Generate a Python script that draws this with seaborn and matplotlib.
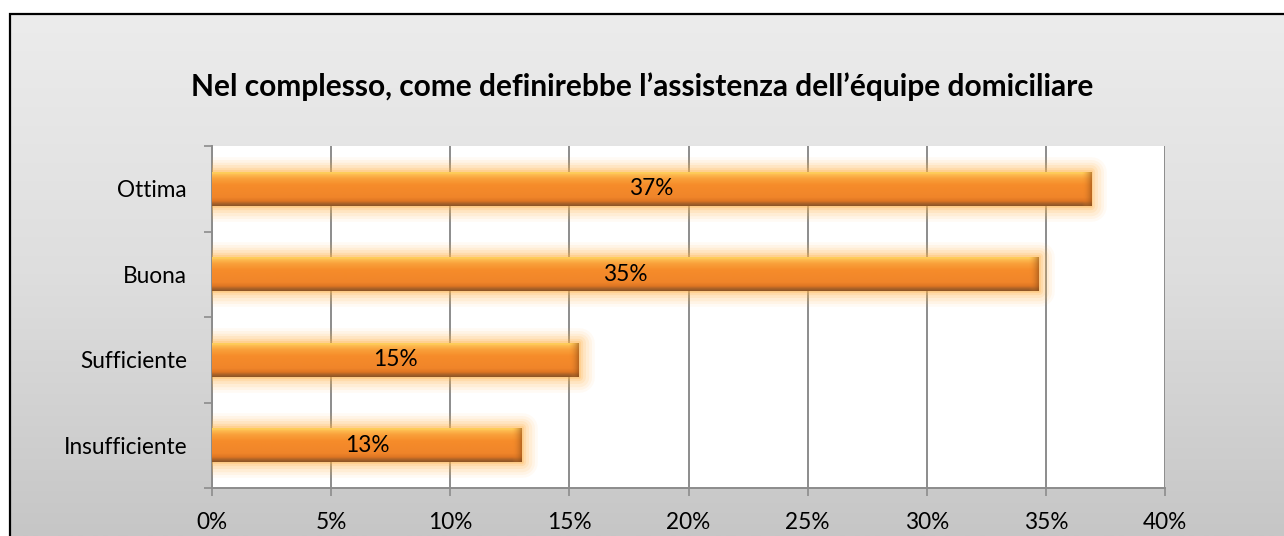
import numpy as np
import matplotlib
matplotlib.use("Agg")
import matplotlib.pyplot as plt
import matplotlib.patheffects as pe
from matplotlib.colors import LinearSegmentedColormap
from matplotlib.ticker import FuncFormatter, FixedLocator
import seaborn as sns

# Survey answers and share of respondents
categories = ["Ottima", "Buona", "Sufficiente", "Insufficiente"]
shares = [0.369, 0.347, 0.154, 0.130]
x_ticks = [0.0, 0.05, 0.10, 0.15, 0.20, 0.25, 0.30, 0.35, 0.40]
title = "Nel complesso, come definirebbe l\u2019assistenza dell\u2019\u00e9quipe domiciliare"

sns.set_theme(style="white")
plt.rcParams["font.family"] = ["Lato", "DejaVu Sans"]

W, H = 1284, 536
LABEL_SIZE = 16.3
fig = plt.figure(figsize=(W / 100, H / 100), dpi=100)
fig.patch.set_facecolor("white")

# Chart-area background: soft grey vertical gradient inside a black frame
bg = fig.add_axes([9 / W, 0, 1 - 9 / W, (H - 13) / H])
bg.set_axis_off()
ramp = np.linspace(0, 1, 256)[:, None]
bg_cmap = LinearSegmentedColormap.from_list("bg", ["#ececec", "#dedede", "#c6c6c6"])
bg.imshow(ramp, cmap=bg_cmap, aspect="auto", extent=(0, 1, 0, 1), origin="upper")
bg.set_xlim(0, 1)
bg.set_ylim(0, 1)
frame = plt.Rectangle((9.5 / W, -0.1), 1.2, (H - 13.5) / H + 0.1, transform=fig.transFigure,
                      fill=False, edgecolor="black", linewidth=1.6, zorder=5)
fig.patches.append(frame)

ax = fig.add_axes([212 / W, 48 / H, (1165 - 212) / W, (488 - 146) / H])
ax.set_facecolor("white")

sns.barplot(x=shares, y=categories, orient="h", color="#f68b2a", width=0.40,
            saturation=1, ax=ax, zorder=3)

# soft orange halo around each bar
glow = []
for lw, a in [(22, 0.06), (18, 0.08), (14, 0.10), (10, 0.13), (6, 0.18), (3, 0.25)]:
    glow.append(pe.Stroke(linewidth=lw, foreground="#ffb347", alpha=a, joinstyle="round"))
glow.append(pe.Normal())

bar_cmap = LinearSegmentedColormap.from_list(
    "bar", [(0.0, "#f5a040"), (0.04, "#ffd55e"), (0.10, "#fdbb50"), (0.22, "#f9a03a"),
            (0.40, "#f68c2a"), (0.75, "#f0852a"), (0.86, "#de7522"), (0.92, "#b06428"),
            (1.0, "#8a5426")])

for patch, val in zip(ax.patches, shares):
    patch.set_path_effects(glow)
    patch.set_edgecolor("none")
    x0, y0 = patch.get_x(), patch.get_y()
    w, h = patch.get_width(), patch.get_height()
    im = ax.imshow(ramp, cmap=bar_cmap, aspect="auto", extent=(x0, x0 + w, y0 + h, y0),
                   origin="upper", zorder=4, interpolation="bilinear")
    im.set_clip_path(patch)
    # darker bevel at the right end of the bar
    hramp = np.linspace(0, 1, 64)[None, :]
    bev_w = 0.004
    im2 = ax.imshow(hramp, cmap=LinearSegmentedColormap.from_list(
        "bev", [(0.97, 0.55, 0.17, 0.0), (0.55, 0.30, 0.10, 0.6)]),
        aspect="auto", extent=(x0 + w - bev_w, x0 + w, y0 + h, y0),
        origin="upper", zorder=5, interpolation="bilinear")
    im2.set_clip_path(patch)
    ax.text(x0 + w / 2, y0 + h / 2, f"{val:.0%}", ha="center", va="center",
            fontsize=LABEL_SIZE, color="black", zorder=6)

ax.set_xlim(0, 0.40)
ax.set_ylim(len(categories) - 0.5, -0.5)
ax.xaxis.set_major_locator(FixedLocator(x_ticks))
ax.xaxis.set_major_formatter(FuncFormatter(lambda v, _: f"{v:.0%}"))
ax.grid(axis="x", color="#8c8c8c", linewidth=1.4, zorder=1)
ax.grid(axis="y", visible=False)
ax.set_axisbelow(True)
ax.set_xlabel("")
ax.set_ylabel("")

ax.tick_params(axis="x", which="major", length=6, width=1.2, color="#8c8c8c",
               pad=11.5, labelsize=LABEL_SIZE, labelcolor="black", bottom=True, direction="out")
ax.tick_params(axis="y", which="major", length=0, pad=18, labelsize=LABEL_SIZE,
               labelcolor="black")
ax.set_yticks(np.arange(-0.5, len(categories), 1.0), minor=True)
ax.tick_params(axis="y", which="minor", length=6, width=1.2, color="#8c8c8c",
               left=True, direction="out")

for side in ["top", "right"]:
    ax.spines[side].set_visible(False)
for side in ["left", "bottom"]:
    ax.spines[side].set_color("#8c8c8c")
    ax.spines[side].set_linewidth(1.4)

fig.text(0.5, 1 - 87 / H, title, ha="center", va="center", fontsize=21.5,
         fontweight="bold", color="black")

fig.savefig("out.png", dpi=100, facecolor=fig.get_facecolor())
